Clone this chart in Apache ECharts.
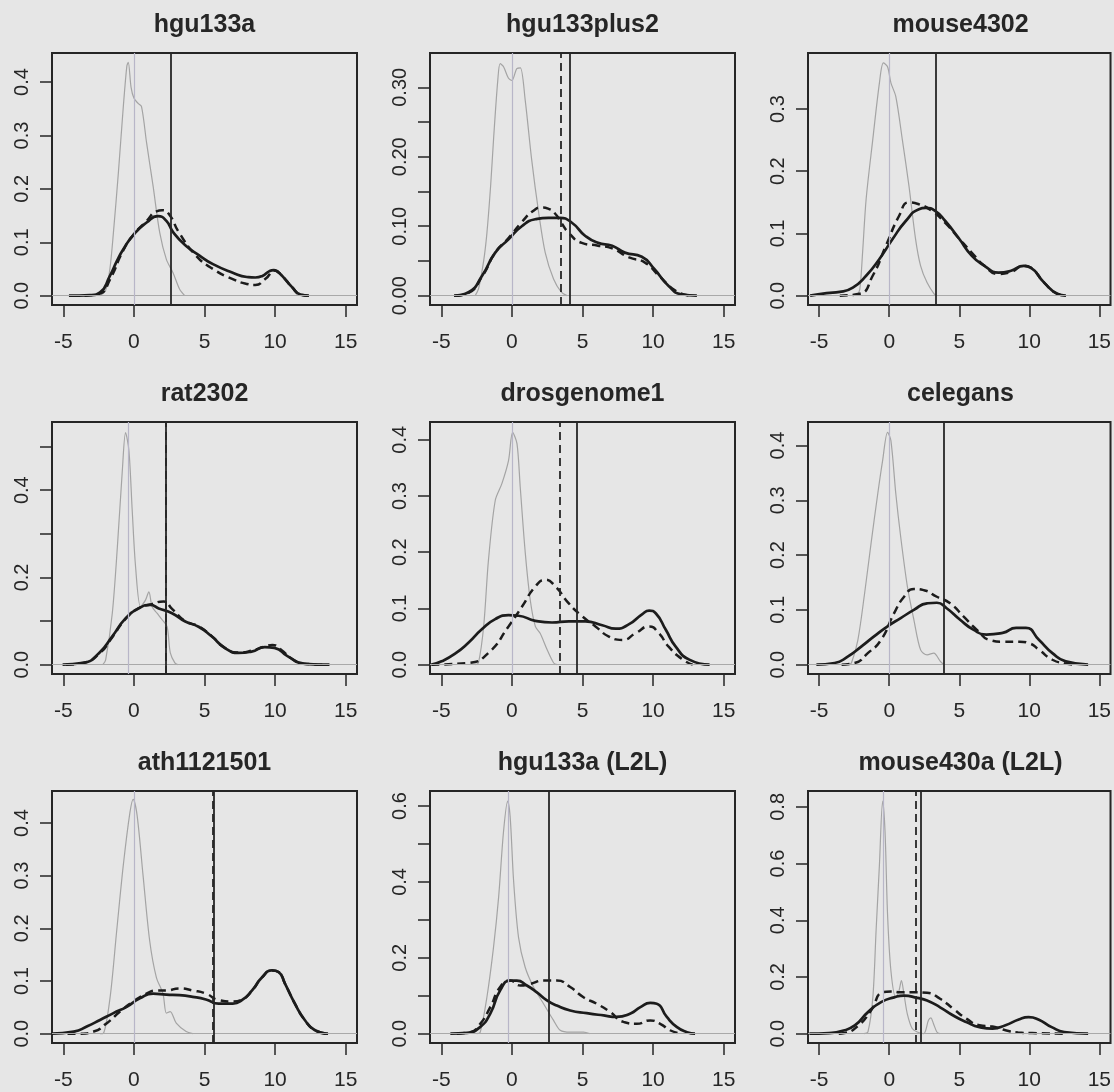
<!DOCTYPE html>
<html>
<head>
<meta charset="utf-8">
<title>density panels</title>
<script src="https://cdn.jsdelivr.net/npm/echarts@6/dist/echarts.min.js"></script>
<style>
  html, body { margin: 0; padding: 0; background: #e6e6e6; }
  #chart { width: 1114px; height: 1092px; }
</style>
</head>
<body>
<div id="chart"></div>
<script>
// panel names, row by row
const titles = ['hgu133a', 'hgu133plus2', 'mouse4302', 'rat2302', 'drosgenome1', 'celegans',
  'ath1121501', 'hgu133a (L2L)', 'mouse430a (L2L)'];

// [x, density]: thin grey curve, solid black, dashed black
const hgu133aGray = [[-2.4,0],[-2.0,0.01],[-1.7,0.05],[-1.45,0.118],[-1.1,0.23],[-0.75,0.354],[-0.5,0.43],[-0.4,0.437],[-0.2,0.39],[0,0.37],[0.3,0.36],[0.54,0.354],[0.9,0.286],[1.36,0.205],[1.83,0.118],[2.3,0.068],[2.77,0.043],[3.24,0.012],[3.6,0]];
const hgu133aSolid = [[-4.6,0],[-3.1,0.001],[-2.4,0.006],[-1.7,0.037],[-1.2,0.065],[-0.75,0.087],[0,0.115],[0.9,0.137],[1.7,0.149],[2.3,0.14],[2.8,0.118],[3.7,0.093],[4.65,0.075],[5.6,0.059],[7.0,0.043],[8.0,0.035],[8.6,0.034],[9.1,0.037],[9.6,0.046],[9.9,0.048],[10.2,0.044],[10.5,0.037],[11.2,0.016],[11.8,0.002],[12.4,0]];
const hgu133aDashed = [[-3.5,0],[-2.4,0.004],[-1.7,0.03],[-0.75,0.085],[0,0.115],[0.9,0.14],[1.6,0.158],[2.0,0.16],[2.5,0.152],[3.2,0.118],[4.4,0.075],[5.6,0.05],[7.0,0.031],[8.0,0.022],[8.6,0.02],[9.3,0.031],[10.0,0.047],[10.5,0.037],[11.2,0.016],[11.8,0.002],[12.3,0]];

const plus2Gray = [[-2.6,0],[-2.36,0.01],[-2.0,0.05],[-1.77,0.09],[-1.5,0.16],[-1.3,0.225],[-1.0,0.31],[-0.83,0.334],[-0.6,0.33],[-0.24,0.313],[0,0.31],[0.35,0.327],[0.6,0.328],[0.94,0.282],[1.4,0.196],[1.9,0.119],[2.36,0.062],[2.95,0.024],[3.5,0.005],[3.9,0]];
const plus2Solid = [[-4.1,0],[-3.07,0.005],[-2.1,0.029],[-1.18,0.062],[-0.24,0.081],[0.7,0.1],[1.65,0.11],[2.6,0.112],[3.4,0.112],[4.25,0.105],[5.2,0.086],[6.1,0.076],[7.1,0.072],[8.0,0.062],[9.2,0.056],[10.1,0.038],[11.1,0.014],[12.0,0.002],[13.1,0]];
const plus2Dashed = [[-4.0,0],[-3.07,0.004],[-2.1,0.028],[-1.18,0.062],[-0.24,0.083],[0.7,0.106],[1.5,0.122],[2.1,0.127],[2.6,0.125],[3.07,0.118],[3.5,0.105],[4.0,0.091],[4.95,0.076],[6.1,0.072],[7.1,0.068],[8.3,0.055],[9.4,0.048],[10.4,0.029],[11.6,0.007],[12.6,0]];

const mouseGray = [[-2.3,0],[-2.1,0.01],[-1.9,0.07],[-1.65,0.155],[-1.18,0.25],[-0.7,0.342],[-0.42,0.374],[-0.12,0.368],[0.12,0.342],[0.47,0.32],[0.94,0.25],[1.41,0.176],[1.88,0.091],[2.24,0.048],[2.7,0.021],[3.2,0.003],[3.4,0]];
const mouseSolid = [[-5.65,0],[-4.47,0.004],[-3.53,0.006],[-2.6,0.013],[-1.65,0.032],[-0.7,0.059],[0.24,0.091],[1.18,0.12],[2.12,0.139],[2.6,0.141],[3.3,0.136],[4.0,0.12],[4.94,0.093],[5.9,0.064],[6.8,0.048],[7.8,0.037],[8.7,0.04],[9.6,0.048],[10.1,0.045],[11.06,0.021],[12.0,0.003],[12.6,0]];
const mouseDashed = [[-3.53,0],[-2.1,0.003],[-1.18,0.032],[-0.24,0.08],[0.7,0.128],[1.41,0.15],[2.12,0.147],[3.06,0.136],[4.0,0.117],[4.94,0.093],[5.9,0.069],[6.8,0.048],[7.8,0.035],[8.7,0.038],[9.6,0.048],[10.1,0.045],[11.06,0.021],[12.0,0.003],[12.6,0]];

const ratGray = [[-2.2,0],[-2.0,0.011],[-1.53,0.118],[-1.17,0.27],[-0.82,0.445],[-0.59,0.532],[-0.35,0.49],[-0.12,0.354],[0.12,0.224],[0.47,0.133],[0.82,0.148],[1.06,0.167],[1.29,0.133],[1.64,0.118],[2.0,0.103],[2.35,0.087],[2.58,0.027],[2.9,0.004],[3.1,0]];
const ratSolid = [[-5.05,0],[-3.6,0.004],[-2.46,0.027],[-1.53,0.065],[-0.59,0.106],[0.35,0.129],[1.17,0.137],[1.76,0.129],[2.7,0.118],[3.64,0.099],[4.58,0.087],[5.5,0.065],[6.46,0.038],[7.4,0.027],[8.33,0.03],[9.27,0.04],[10.0,0.038],[10.9,0.019],[12.1,0.002],[13.85,0]];
const ratDashed = [[-4.8,0],[-3.6,0.004],[-2.46,0.025],[-1.53,0.063],[-0.59,0.105],[0.35,0.13],[1.17,0.138],[2.1,0.145],[2.7,0.128],[3.64,0.1],[4.58,0.088],[5.5,0.066],[6.46,0.038],[7.4,0.028],[8.33,0.032],[9.27,0.042],[9.8,0.045],[10.4,0.035],[11.2,0.013],[12.1,0.002],[13.5,0]];

const drosGray = [[-2.6,0],[-2.37,0.003],[-2.0,0.068],[-1.66,0.186],[-1.18,0.292],[-0.71,0.322],[-0.24,0.363],[0.05,0.413],[0.36,0.393],[0.59,0.316],[0.95,0.198],[1.3,0.115],[1.66,0.068],[2.0,0.056],[2.49,0.027],[2.96,0.003],[3.2,0]];
const drosSolid = [[-5.7,0],[-4.98,0.006],[-4.0,0.02],[-3.08,0.039],[-2.13,0.063],[-1.18,0.081],[-0.24,0.088],[0.47,0.087],[1.66,0.078],[2.84,0.075],[4.03,0.077],[5.2,0.077],[6.4,0.07],[7.35,0.064],[8.3,0.072],[9.24,0.09],[9.72,0.096],[10.2,0.091],[10.9,0.062],[11.6,0.032],[12.56,0.009],[14.0,0]];
const drosDashed = [[-5.7,0],[-3.08,0.003],[-1.66,0.021],[-0.24,0.068],[0.71,0.103],[1.66,0.139],[2.37,0.151],[3.08,0.139],[4.03,0.109],[4.98,0.086],[5.92,0.068],[6.87,0.05],[7.82,0.044],[8.77,0.056],[9.72,0.068],[10.4,0.056],[11.1,0.032],[12.1,0.009],[12.8,0]];

const celeGray = [[-2.9,0],[-2.7,0.003],[-2.24,0.045],[-1.76,0.13],[-1.3,0.221],[-0.82,0.312],[-0.47,0.373],[-0.12,0.424],[0.12,0.409],[0.47,0.312],[0.82,0.233],[1.3,0.142],[1.76,0.082],[2.24,0.027],[2.7,0.018],[3.18,0.021],[3.65,0.006],[3.9,0]];
const celeSolid = [[-5.2,0],[-3.9,0.003],[-2.94,0.015],[-2.0,0.033],[-1.06,0.052],[-0.12,0.07],[0.82,0.085],[1.76,0.1],[2.7,0.112],[3.4,0.113],[4.1,0.103],[5.06,0.082],[6.0,0.064],[6.94,0.055],[8.1,0.058],[9.06,0.067],[9.76,0.067],[10.7,0.045],[11.65,0.021],[12.6,0.006],[14.2,0]];
const celeDashed = [[-3.4,0],[-2.47,0.003],[-1.53,0.021],[-0.59,0.045],[0.35,0.094],[1.06,0.124],[1.76,0.138],[2.47,0.136],[3.4,0.124],[4.35,0.112],[5.3,0.088],[6.24,0.064],[7.18,0.045],[8.1,0.042],[9.3,0.042],[10.0,0.039],[10.7,0.027],[11.65,0.009],[12.6,0.002],[13.2,0]];

const athGray = [[-2.4,0],[-2.15,0.001],[-1.68,0.07],[-1.22,0.195],[-0.75,0.32],[-0.28,0.42],[-0.05,0.445],[0.23,0.414],[0.65,0.3],[1.12,0.176],[1.59,0.107],[2.06,0.076],[2.3,0.039],[2.57,0.042],[3.0,0.02],[3.7,0.004],[4.16,0]];
const athSolid = [[-5.8,0],[-4.26,0.004],[-3.3,0.014],[-2.4,0.026],[-1.45,0.039],[-0.51,0.051],[0.42,0.067],[1.36,0.076],[2.3,0.074],[3.23,0.073],[4.16,0.07],[5.1,0.065],[6.0,0.057],[7.0,0.057],[7.67,0.064],[8.37,0.082],[9.08,0.107],[9.78,0.12],[10.25,0.117],[10.7,0.095],[11.4,0.057],[12.1,0.026],[12.8,0.007],[13.75,0]];
const athDashed = [[-4.7,0],[-3.8,0],[-2.85,0.004],[-1.92,0.02],[-0.98,0.042],[-0.05,0.061],[0.89,0.076],[1.6,0.082],[2.3,0.082],[3.23,0.086],[4.16,0.082],[5.1,0.076],[6.0,0.064],[7.0,0.061],[7.67,0.065],[8.37,0.082],[9.08,0.107],[9.78,0.12],[10.25,0.117],[10.7,0.095],[11.4,0.057],[12.1,0.026],[12.8,0.007],[13.75,0]];

const l2lHumGray = [[-2.5,0],[-2.24,0.004],[-1.77,0.096],[-1.3,0.228],[-0.94,0.36],[-0.59,0.534],[-0.3,0.613],[-0.12,0.57],[0.12,0.403],[0.47,0.254],[0.94,0.175],[1.53,0.123],[2.24,0.079],[2.95,0.035],[3.42,0.009],[4.13,0.004],[5.07,0.004],[5.5,0]];
const l2lHumSolid = [[-4.36,0],[-3.18,0.002],[-2.24,0.018],[-1.53,0.053],[-0.83,0.114],[-0.12,0.14],[0.35,0.14],[1.06,0.127],[1.77,0.109],[2.48,0.088],[3.18,0.074],[4.13,0.061],[5.3,0.054],[6.5,0.048],[7.4,0.044],[8.4,0.053],[9.1,0.07],[9.8,0.081],[10.26,0.079],[10.97,0.044],[11.67,0.018],[12.4,0.004],[12.97,0]];
const l2lHumDashed = [[-3.9,0],[-2.95,0.004],[-2.24,0.026],[-1.53,0.07],[-0.83,0.123],[-0.12,0.14],[0.59,0.127],[1.3,0.131],[2.24,0.14],[3.18,0.14],[4.13,0.123],[5.07,0.096],[6.0,0.079],[6.96,0.057],[7.9,0.031],[8.84,0.026],[9.8,0.035],[10.5,0.026],[11.2,0.009],[11.9,0]];

const l2lMusGray = [[-1.8,0],[-1.52,0.006],[-1.17,0.128],[-0.94,0.362],[-0.7,0.596],[-0.47,0.82],[-0.3,0.713],[-0.12,0.42],[0.12,0.222],[0.47,0.128],[0.7,0.152],[0.87,0.187],[1.05,0.14],[1.29,0.07],[1.64,0.018],[2.0,0.006],[2.46,0],[2.8,0.047],[2.97,0.056],[3.16,0.035],[3.4,0.006],[3.6,0]];
const l2lMusSolid = [[-5.7,0],[-4.3,0.002],[-3.4,0.009],[-2.46,0.029],[-1.52,0.076],[-0.58,0.111],[0.35,0.128],[1.05,0.134],[2.0,0.126],[2.7,0.117],[3.63,0.093],[4.57,0.064],[5.5,0.041],[6.44,0.023],[7.38,0.018],[8.3,0.03],[9.25,0.05],[9.95,0.058],[10.65,0.05],[11.6,0.023],[12.5,0.006],[14.2,0]];
const l2lMusDashed = [[-3.6,0],[-3.2,0.002],[-2.2,0.029],[-1.3,0.082],[-0.47,0.146],[0.12,0.149],[0.82,0.146],[1.76,0.146],[2.7,0.144],[3.63,0.123],[4.57,0.088],[5.5,0.053],[6.44,0.03],[7.38,0.025],[8.3,0.012],[9.2,0.004],[10.2,0.002],[12.5,0]];

// vertical cut-offs (solid / dashed) and the thin grey mode line
const solidCut = [2.58, 4.08, 3.29, 2.23, 4.62, 3.9, 5.68, 2.64, 2.22];
const dashedCut = [null, 3.49, null, 2.23, 3.36, null, 5.57, null, 1.92];
const modeLine = [0, 0, 0, -0.4, 0, 0, 0, -0.25, -0.4];

// y range top of each panel (largest density) and its ticks / labels
const densityMax = [0.437, 0.336, 0.375, 0.535, 0.415, 0.426, 0.443, 0.615, 0.823];
const yTicks = [
  [0, 0.1, 0.2, 0.3, 0.4],
  [0, 0.05, 0.1, 0.15, 0.2, 0.25, 0.3],
  [0, 0.1, 0.2, 0.3],
  [0, 0.1, 0.2, 0.3, 0.4, 0.5],
  [0, 0.1, 0.2, 0.3, 0.4],
  [0, 0.1, 0.2, 0.3, 0.4],
  [0, 0.1, 0.2, 0.3, 0.4],
  [0, 0.1, 0.2, 0.3, 0.4, 0.5, 0.6],
  [0, 0.2, 0.4, 0.6, 0.8]
];
const yLabels = [
  [0, 0.1, 0.2, 0.3, 0.4],
  [0, 0.1, 0.2, 0.3],
  [0, 0.1, 0.2, 0.3],
  [0, 0.2, 0.4],
  [0, 0.1, 0.2, 0.3, 0.4],
  [0, 0.1, 0.2, 0.3, 0.4],
  [0, 0.1, 0.2, 0.3, 0.4],
  [0, 0.2, 0.4, 0.6],
  [0, 0.2, 0.4, 0.6, 0.8]
];
const yDigits = [1, 2, 1, 1, 1, 1, 1, 1, 1];
const xTicks = [-5, 0, 5, 10, 15];

const grayCurves = [hgu133aGray, plus2Gray, mouseGray, ratGray, drosGray, celeGray, athGray, l2lHumGray, l2lMusGray];
const solidCurves = [hgu133aSolid, plus2Solid, mouseSolid, ratSolid, drosSolid, celeSolid, athSolid, l2lHumSolid, l2lMusSolid];
const dashedCurves = [hgu133aDashed, plus2Dashed, mouseDashed, ratDashed, drosDashed, celeDashed, athDashed, l2lHumDashed, l2lMusDashed];

const colLeft = [52, 430, 808];
const rowTop = [53, 422, 791];
const boxW = 305;
const boxH = 252;
const FONT = "'Liberation Sans', Arial, sans-serif";
const INK = '#262626';

const chart = echarts.init(document.getElementById('chart'));

const grid = [], xAxis = [], yAxis = [], series = [], title = [];

titles.forEach((name, i) => {
  const left = colLeft[i % 3];
  const top = rowTop[Math.floor(i / 3)];
  const m = densityMax[i];

  grid.push({
    left, top, width: boxW, height: boxH,
    show: true, borderColor: INK, borderWidth: 2, backgroundColor: 'transparent'
  });

  title.push({
    text: name,
    left: left + boxW / 2,
    top: top - 40,
    textAlign: 'center',
    padding: 0,
    textStyle: { fontFamily: FONT, fontSize: 25, fontWeight: 'bold', color: INK }
  });

  xAxis.push({
    type: 'value', gridIndex: i, min: -5.8, max: 15.8,
    axisLine: { show: false, onZero: false },
    splitLine: { show: false },
    axisTick: { show: true, inside: false, length: 12, customValues: xTicks, lineStyle: { color: INK, width: 1.5 } },
    axisLabel: { customValues: xTicks, margin: 27, fontSize: 21, fontFamily: FONT, color: INK }
  });

  yAxis.push({
    type: 'value', gridIndex: i, min: -0.04 * m, max: 1.04 * m,
    axisLine: { show: false, onZero: false },
    splitLine: { show: false },
    axisTick: { show: true, inside: false, length: 12, customValues: yTicks[i], lineStyle: { color: INK, width: 1.5 } },
    axisLabel: {
      customValues: yLabels[i], rotate: 90, margin: 20, fontSize: 20, fontFamily: FONT, color: INK,
      formatter: v => Number(v).toFixed(yDigits[i])
    }
  });

  const vLine = (x, type, width, color) => ({ xAxis: x, lineStyle: { type, width, color } });

  series.push({
    type: 'line', xAxisIndex: i, yAxisIndex: i, data: grayCurves[i],
    symbol: 'none', smooth: 0.3, z: 2,
    lineStyle: { color: '#a4a4a4', width: 1.2 },
    markLine: {
      silent: true, symbol: ['none', 'none'], label: { show: false },
      data: [
        { yAxis: 0, lineStyle: { color: '#a9a9a9', width: 1.2, type: 'solid' } },
        vLine(modeLine[i], 'solid', 1.2, '#b8b6c8')
      ]
    }
  });

  const solidMarks = [vLine(solidCut[i], 'solid', 1.8, INK)];
  series.push({
    type: 'line', xAxisIndex: i, yAxisIndex: i, data: solidCurves[i],
    symbol: 'none', smooth: 0.55, z: 4,
    lineStyle: { color: '#1c1c1c', width: 2.7 },
    markLine: { silent: true, symbol: ['none', 'none'], label: { show: false }, data: solidMarks }
  });

  const dashedMarks = dashedCut[i] == null ? [] : [vLine(dashedCut[i], [8, 5], 1.8, INK)];
  series.push({
    type: 'line', xAxisIndex: i, yAxisIndex: i, data: dashedCurves[i],
    symbol: 'none', smooth: 0.55, z: 3,
    lineStyle: { color: '#1c1c1c', width: 2.5, type: [8, 5] },
    markLine: { silent: true, symbol: ['none', 'none'], label: { show: false }, data: dashedMarks }
  });
});

chart.setOption({
  backgroundColor: '#e6e6e6',
  animation: false,
  title, grid, xAxis, yAxis, series
});

window.addEventListener('resize', () => chart.resize());
</script>
</body>
</html>
